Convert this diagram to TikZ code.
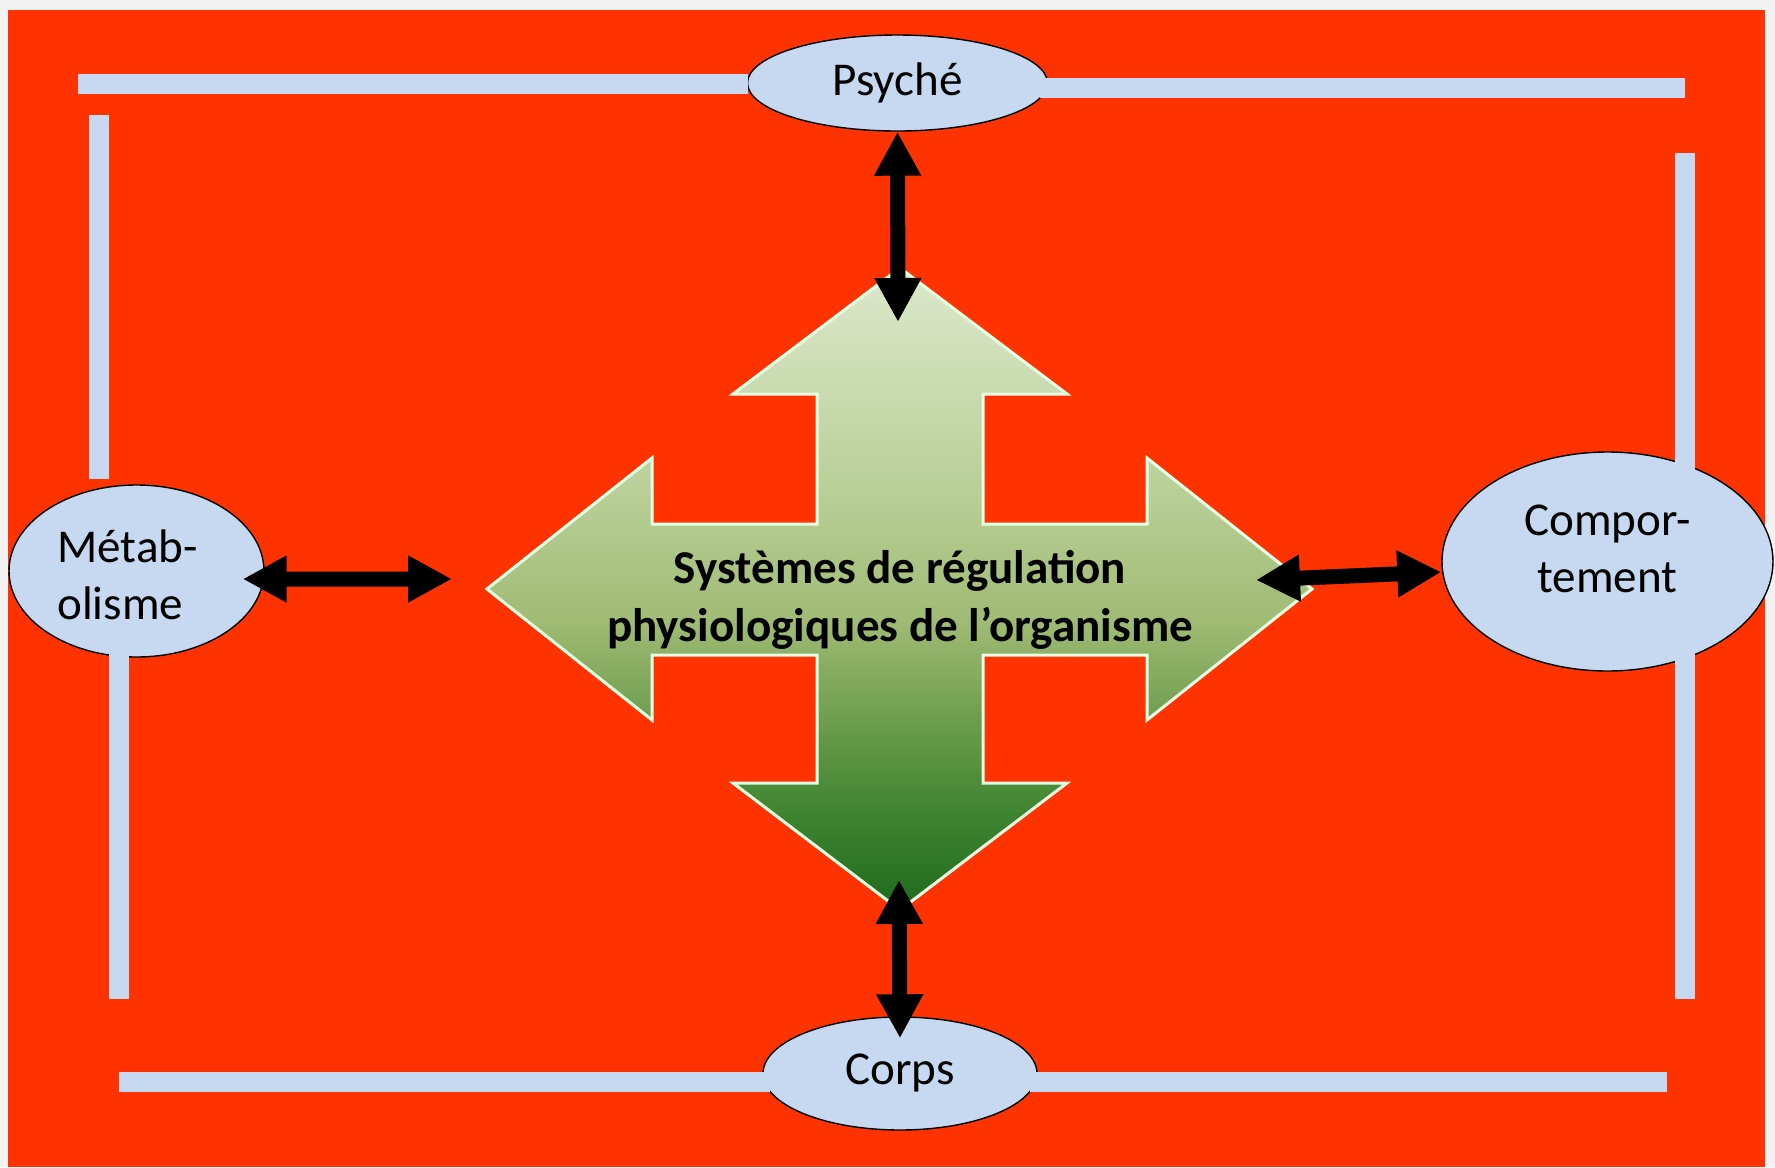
\documentclass[tikz,border=0pt]{standalone}
\usepackage{fontspec}
\setmainfont{Carlito}
\usetikzlibrary{arrows.meta,shapes.geometric}

\definecolor{bgred}{HTML}{FF3300}
\definecolor{barblue}{HTML}{C6D9F0}
\definecolor{margingray}{HTML}{F2F2F2}
\definecolor{greentop}{HTML}{DDE8CC}
\definecolor{greenhigh}{HTML}{B8CF97}
\definecolor{greenmid}{HTML}{A0BB74}
\definecolor{greenlow}{HTML}{6E9E4F}
\definecolor{greendeep}{HTML}{3E8430}
\definecolor{greenbot}{HTML}{1E6A1C}

\pgfdeclareverticalshading{regshade}{100bp}{color(0bp)=(greenbot); color(25bp)=(greenbot);
  color(32.5bp)=(greendeep); color(40bp)=(greenlow); color(47.5bp)=(greenmid);
  color(57.5bp)=(greenhigh); color(75bp)=(greentop); color(100bp)=(greentop)}

\begin{document}
\begin{tikzpicture}[x=0.1mm,y=-0.1mm,
  font=\fontsize{13.4}{16.2}\selectfont,
  oval node/.style={ellipse,draw=black,line width=0.4pt,fill=barblue,inner sep=0pt},
  bar line/.style={draw=barblue,line width=2mm},
  link/.style={{Triangle[width=4.4mm,length=4.4mm]}-{Triangle[width=4.4mm,length=4.4mm]},
    line width=1.5mm,black}]

  \fill[margingray] (0,0) rectangle (1775,1167);
  \fill[bgred] (8,10) rectangle (1765,1167);

  % four-way arrow in the middle
  \shadedraw[shading=regshade,draw=white!90!green,line width=0.3mm]
    (900,268) -- (1067,394) -- (983,394) -- (983,524) -- (1147,524) -- (1147,458)
    -- (1312,589) -- (1147,720) -- (1147,655) -- (983,655) -- (983,783) -- (1067,783)
    -- (900,910) -- (733,783) -- (817,783) -- (817,655) -- (652,655) -- (652,720)
    -- (487,589) -- (652,458) -- (652,524) -- (817,524) -- (817,394) -- (733,394) -- cycle;
  \node[font=\bfseries\fontsize{13.4}{16.5}\selectfont,align=center] (reg) at (900,600)
    {Systèmes de régulation\\physiologiques de l’organisme};

  \node[oval node,minimum width=30mm,minimum height=9.6mm] (psy) at (897.5,83) {Psyché};
  \node[oval node,minimum width=25.5mm,minimum height=17.2mm] (metab) at (136.5,571) {};
  \node[align=left] (metabtext) at ([xshift=-0.9mm,yshift=-0.4mm]metab.center) {Métab-\\olisme};
  \node[oval node,minimum width=33.1mm,minimum height=21.9mm] (comp) at (1607.5,561.5) {};
  \node[oval node,minimum width=27.4mm,minimum height=11.3mm] (corps) at (900,1073.5) {Corps};

  % frame bars
  \draw[bar line] (78,83.5) -- (748,83.5);
  \draw[bar line] (1040,88) -- (1685,88);
  \draw[bar line] (99,115) -- (99,479);
  \draw[bar line] (118.5,650) -- (118.5,999);
  \draw[bar line] (1685,153) -- (1685,999);
  \draw[bar line] (119,1082) -- (770,1082);
  \draw[bar line] (1030,1082) -- (1667,1082);

  \node[align=center] (comptext) at ([yshift=1.3mm]comp.center) {Compor-\\tement};

  \coordinate (metabend) at (452,579);
  \coordinate (psyend) at (898,322);
  \coordinate (compend) at (1256,580);
  \coordinate (corpsend) at (899,880);

  \draw[link] ([shift={(-2.2mm,-0.8mm)}]metab.east) -- (metabend);
  \draw[link] (psy.south) -- (psyend);
  \draw[link] (compend) -- ([yshift=-1.05mm]comp.west);
  \draw[link] (corpsend) -- ([yshift=-2.2mm]corps.north);

\end{tikzpicture}
\end{document}
